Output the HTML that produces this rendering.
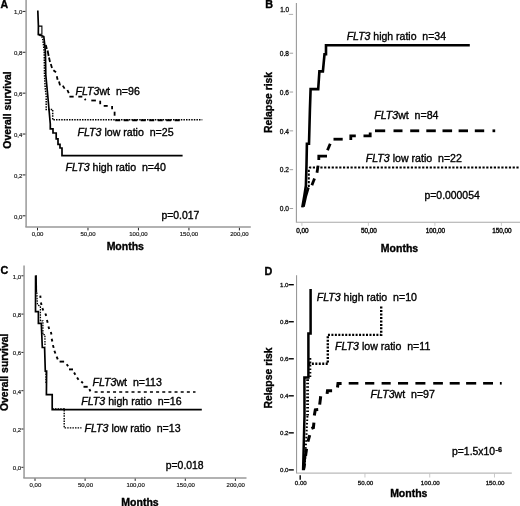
<!DOCTYPE html>
<html><head><meta charset="utf-8"><title>Figure</title>
<style>
html,body{margin:0;padding:0;background:#fff;}
body{width:520px;height:506px;overflow:hidden;font-family:"Liberation Sans", Arial, sans-serif;}
svg{display:block;font-family:"Liberation Sans", Arial, sans-serif;filter:blur(0.45px);}
</style></head><body>
<svg width="520" height="506" viewBox="0 0 520 506">
<rect width="520" height="506" fill="#fff"/>
<line x1="26.1" y1="0" x2="26.1" y2="227.1" stroke="#999" stroke-width="1.5" />
<line x1="25.35" y1="227.1" x2="250.8" y2="227.1" stroke="#999" stroke-width="1.5" />
<line x1="22.6" y1="11.400000000000006" x2="25.4" y2="11.400000000000006" stroke="#222" stroke-width="1" />
<text x="22.3" y="14.400000000000006" font-size="6" font-weight="normal" text-anchor="end" fill="#222" stroke="#222" stroke-width="0.2">1,0</text>
<line x1="22.6" y1="52.28" x2="25.4" y2="52.28" stroke="#222" stroke-width="1" />
<text x="22.3" y="55.28" font-size="6" font-weight="normal" text-anchor="end" fill="#222" stroke="#222" stroke-width="0.2">0,8</text>
<line x1="22.6" y1="93.16000000000001" x2="25.4" y2="93.16000000000001" stroke="#222" stroke-width="1" />
<text x="22.3" y="96.16000000000001" font-size="6" font-weight="normal" text-anchor="end" fill="#222" stroke="#222" stroke-width="0.2">0,6</text>
<line x1="22.6" y1="134.04000000000002" x2="25.4" y2="134.04000000000002" stroke="#222" stroke-width="1" />
<text x="22.3" y="137.04000000000002" font-size="6" font-weight="normal" text-anchor="end" fill="#222" stroke="#222" stroke-width="0.2">0,4</text>
<line x1="22.6" y1="174.92000000000002" x2="25.4" y2="174.92000000000002" stroke="#222" stroke-width="1" />
<text x="22.3" y="177.92000000000002" font-size="6" font-weight="normal" text-anchor="end" fill="#222" stroke="#222" stroke-width="0.2">0,2</text>
<line x1="22.6" y1="215.8" x2="25.4" y2="215.8" stroke="#222" stroke-width="1" />
<text x="22.3" y="218.8" font-size="6" font-weight="normal" text-anchor="end" fill="#222" stroke="#222" stroke-width="0.2">0,0</text>
<line x1="37.5" y1="227.8" x2="37.5" y2="230.4" stroke="#222" stroke-width="1" />
<text x="37.5" y="236.4" font-size="6" font-weight="normal" text-anchor="middle" fill="#222" stroke="#222" stroke-width="0.2">0,00</text>
<line x1="87.975" y1="227.8" x2="87.975" y2="230.4" stroke="#222" stroke-width="1" />
<text x="87.975" y="236.4" font-size="6" font-weight="normal" text-anchor="middle" fill="#222" stroke="#222" stroke-width="0.2">50,00</text>
<line x1="138.45" y1="227.8" x2="138.45" y2="230.4" stroke="#222" stroke-width="1" />
<text x="138.45" y="236.4" font-size="6" font-weight="normal" text-anchor="middle" fill="#222" stroke="#222" stroke-width="0.2">100,00</text>
<line x1="188.925" y1="227.8" x2="188.925" y2="230.4" stroke="#222" stroke-width="1" />
<text x="188.925" y="236.4" font-size="6" font-weight="normal" text-anchor="middle" fill="#222" stroke="#222" stroke-width="0.2">150,00</text>
<line x1="239.4" y1="227.8" x2="239.4" y2="230.4" stroke="#222" stroke-width="1" />
<text x="239.4" y="236.4" font-size="6" font-weight="normal" text-anchor="middle" fill="#222" stroke="#222" stroke-width="0.2">200,00</text>
<text x="0.6" y="8.1" font-size="10.5" font-weight="bold" text-anchor="start" fill="#000"  stroke="#000" stroke-width="0.35">A</text>
<text transform="translate(11,110) rotate(-90)" font-size="10.4" font-weight="bold" text-anchor="middle" fill="#000" stroke="#000" stroke-width="0.35">Overall survival</text>
<text x="125.3" y="249.7" font-size="10.5" font-weight="bold" text-anchor="middle" fill="#000"  stroke="#000" stroke-width="0.35">Months</text>
<text x="161.4" y="219.4" font-size="10.4" font-weight="normal" text-anchor="start" fill="#000"  stroke="#000" stroke-width="0.35">p=0.017</text>
<text x="75.5" y="94.5" font-size="10.6" fill="#000" stroke="#000" stroke-width="0.35" xml:space="preserve"><tspan font-style="italic">FLT3</tspan>wt  n=96</text>
<text x="77.5" y="136.3" font-size="10.6" fill="#000" stroke="#000" stroke-width="0.35" xml:space="preserve"><tspan font-style="italic">FLT3</tspan> low ratio  n=25</text>
<text x="65.6" y="171.2" font-size="10.6" fill="#000" stroke="#000" stroke-width="0.35" xml:space="preserve"><tspan font-style="italic">FLT3</tspan> high ratio  n=40</text>
<path d="M37.80,10.50 L38.40,26.00 L38.30,34.50 L39.60,34.80 L43.80,36.50 L44.60,43.50 L45.40,52.00 L45.80,75.00 L47.70,95.00 L50.30,124.00 L50.30,128.80 L53.00,128.80 L53.00,133.00 L56.20,133.00 L56.20,138.80 L58.00,138.80 L58.00,144.40 L60.00,144.40 L60.00,148.00 L62.00,148.00 L62.00,155.60 L182.60,155.60" fill="none" stroke="#000" stroke-width="1.7" stroke-linejoin="miter" />
<path d="M38.60,26.10 L41.90,26.10 L41.90,34.30 L38.30,34.30" fill="none" stroke="#000" stroke-width="1.1" stroke-linejoin="miter" />
<path d="M39.50,35.00 L42.50,37.50 L43.40,44.00 L44.20,52.00 L44.50,75.00 L45.20,88.00 L46.20,96.00 L46.20,109.50 L52.70,109.50 L52.70,119.80 L202.30,119.80" fill="none" stroke="#000" stroke-width="1.5" stroke-dasharray="1.5 1.1" stroke-linejoin="miter" />
<line x1="45.8" y1="45" x2="46.8" y2="49" stroke="#000" stroke-width="1.8" />
<line x1="47.6" y1="50.5" x2="48.6" y2="56" stroke="#000" stroke-width="1.8" />
<line x1="49.0" y1="57.5" x2="50.0" y2="62" stroke="#000" stroke-width="1.8" />
<line x1="50.8" y1="64" x2="52.0" y2="68" stroke="#000" stroke-width="1.8" />
<line x1="53.4" y1="70.3" x2="56.0" y2="72.3" stroke="#000" stroke-width="1.8" />
<line x1="56.8" y1="76.2" x2="57.6" y2="79.8" stroke="#000" stroke-width="1.8" />
<line x1="59.0" y1="81.5" x2="60.0" y2="85.4" stroke="#000" stroke-width="1.8" />
<line x1="62.8" y1="85.6" x2="64.6" y2="88.6" stroke="#000" stroke-width="1.8" />
<line x1="67.4" y1="90" x2="68.8" y2="93.2" stroke="#000" stroke-width="1.8" />
<line x1="69.4" y1="96.65" x2="73.65" y2="96.65" stroke="#000" stroke-width="1.8" />
<line x1="78.3" y1="96.65" x2="82.3" y2="96.65" stroke="#000" stroke-width="1.8" />
<line x1="84.6" y1="99.0" x2="85.8" y2="100.0" stroke="#000" stroke-width="1.8" />
<line x1="91.3" y1="100.5" x2="95.9" y2="100.5" stroke="#000" stroke-width="1.8" />
<line x1="100.2" y1="100.7" x2="100.2" y2="104.2" stroke="#000" stroke-width="1.8" />
<line x1="103.7" y1="105.9" x2="107.7" y2="105.9" stroke="#000" stroke-width="1.8" />
<line x1="112.1" y1="105.9" x2="112.1" y2="109.3" stroke="#000" stroke-width="1.8" />
<line x1="114.6" y1="111.7" x2="114.6" y2="115.7" stroke="#000" stroke-width="1.8" />
<path d="M115.20,120.20 L180.30,120.20" fill="none" stroke="#000" stroke-width="2.0" stroke-dasharray="5 3.5" stroke-linejoin="miter" />
<line x1="296.4" y1="3" x2="296.4" y2="222.3" stroke="#999" stroke-width="1.1" />
<line x1="295.9" y1="222.3" x2="520" y2="222.3" stroke="#a8a8a8" stroke-width="1.1" />
<line x1="288.8" y1="14.400000000000006" x2="293.1" y2="14.400000000000006" stroke="#999" stroke-width="0.8" />
<text x="289.1" y="12.3" font-size="6.4" font-weight="normal" text-anchor="end" fill="#111" stroke="#111" stroke-width="0.3">1.0</text>
<line x1="289.6" y1="53.22" x2="293.1" y2="53.22" stroke="#888" stroke-width="0.8" />
<text x="288.9" y="56.019999999999996" font-size="6.6" font-weight="normal" text-anchor="end" fill="#111" stroke="#111" stroke-width="0.3">0.8</text>
<line x1="289.6" y1="92.04" x2="293.1" y2="92.04" stroke="#888" stroke-width="0.8" />
<text x="288.9" y="94.84" font-size="6.6" font-weight="normal" text-anchor="end" fill="#111" stroke="#111" stroke-width="0.3">0.6</text>
<line x1="289.6" y1="130.86" x2="293.1" y2="130.86" stroke="#888" stroke-width="0.8" />
<text x="288.9" y="133.66000000000003" font-size="6.6" font-weight="normal" text-anchor="end" fill="#111" stroke="#111" stroke-width="0.3">0.4</text>
<line x1="289.6" y1="169.68" x2="293.1" y2="169.68" stroke="#888" stroke-width="0.8" />
<text x="288.9" y="172.48000000000002" font-size="6.6" font-weight="normal" text-anchor="end" fill="#111" stroke="#111" stroke-width="0.3">0.2</text>
<line x1="289.6" y1="208.5" x2="293.1" y2="208.5" stroke="#888" stroke-width="0.8" />
<text x="288.9" y="211.3" font-size="6.6" font-weight="normal" text-anchor="end" fill="#111" stroke="#111" stroke-width="0.3">0.0</text>
<line x1="301.9" y1="222.8" x2="301.9" y2="225.8" stroke="#bbb" stroke-width="0.8" />
<text x="302.4" y="232.8" font-size="6.4" font-weight="normal" text-anchor="middle" fill="#111" stroke="#111" stroke-width="0.4">0,00</text>
<line x1="368.4" y1="222.8" x2="368.4" y2="225.8" stroke="#bbb" stroke-width="0.8" />
<text x="368.9" y="232.8" font-size="6.4" font-weight="normal" text-anchor="middle" fill="#111" stroke="#111" stroke-width="0.4">50,00</text>
<line x1="434.9" y1="222.8" x2="434.9" y2="225.8" stroke="#bbb" stroke-width="0.8" />
<text x="435.4" y="232.8" font-size="6.4" font-weight="normal" text-anchor="middle" fill="#111" stroke="#111" stroke-width="0.4">100,00</text>
<line x1="501.4" y1="222.8" x2="501.4" y2="225.8" stroke="#bbb" stroke-width="0.8" />
<text x="501.9" y="232.8" font-size="6.4" font-weight="normal" text-anchor="middle" fill="#111" stroke="#111" stroke-width="0.4">150,00</text>
<text x="265.2" y="8.1" font-size="10.8" font-weight="bold" text-anchor="start" fill="#000"  stroke="#000" stroke-width="0.35">B</text>
<text transform="translate(272.1,102.5) rotate(-90)" font-size="10.4" font-weight="bold" text-anchor="middle" fill="#000" stroke="#000" stroke-width="0.35">Relapse risk</text>
<text x="399.5" y="251.9" font-size="10.5" font-weight="bold" text-anchor="middle" fill="#000"  stroke="#000" stroke-width="0.35">Months</text>
<text x="424.5" y="199" font-size="10.4" font-weight="normal" text-anchor="start" fill="#000"  stroke="#000" stroke-width="0.35">p=0.000054</text>
<text x="346.7" y="40.2" font-size="10.5" fill="#000" stroke="#000" stroke-width="0.35" xml:space="preserve"><tspan font-style="italic">FLT3</tspan> high ratio  n=34</text>
<text x="374.2" y="119.3" font-size="10.6" fill="#000" stroke="#000" stroke-width="0.35" xml:space="preserve"><tspan font-style="italic">FLT3</tspan>wt  n=84</text>
<text x="365.8" y="161.6" font-size="10.6" fill="#000" stroke="#000" stroke-width="0.35" xml:space="preserve"><tspan font-style="italic">FLT3</tspan> low ratio  n=22</text>
<path d="M302.30,207.40 L304.30,196.00 L305.90,185.70 L306.50,165.00 L306.90,143.70 L309.00,143.70 L309.90,110.00 L310.60,89.10 L318.20,89.10 L319.40,71.40 L322.90,71.40 L324.50,54.30 L326.00,54.30 L326.00,45.30 L469.80,45.30" fill="none" stroke="#000" stroke-width="2.6" stroke-linejoin="miter" />
<path d="M303.40,206.60 L305.80,196.00 L308.30,187.50" fill="none" stroke="#000" stroke-width="2.8" stroke-linejoin="miter" />
<path d="M308.80,187.00 L308.80,169.50 L309.90,167.60 L520.00,167.60" fill="none" stroke="#000" stroke-width="2" stroke-dasharray="2.2 1.57" stroke-linejoin="miter" />
<path d="M311.90,185.20 L314.50,178.50" fill="none" stroke="#000" stroke-width="2.8" stroke-linejoin="miter" />
<path d="M317.00,172.80 L318.10,165.60" fill="none" stroke="#000" stroke-width="2.8" stroke-linejoin="miter" />
<path d="M318.80,160.00 L318.80,156.20 L327.00,156.20" fill="none" stroke="#000" stroke-width="2.8" stroke-linejoin="miter" />
<path d="M327.50,150.20 L330.20,143.70" fill="none" stroke="#000" stroke-width="2.8" stroke-linejoin="miter" />
<path d="M333.50,139.20 L342.70,139.20" fill="none" stroke="#000" stroke-width="2.8" stroke-linejoin="miter" />
<path d="M350.80,140.00 L350.80,135.80 L355.80,135.80" fill="none" stroke="#000" stroke-width="2.8" stroke-linejoin="miter" />
<path d="M363.50,135.80 L370.20,135.80 L370.20,132.50" fill="none" stroke="#000" stroke-width="2.8" stroke-linejoin="miter" />
<path d="M375.00,130.80 L385.20,130.80" fill="none" stroke="#000" stroke-width="2.8" stroke-linejoin="miter" />
<path d="M393.50,130.80 L402.50,130.80" fill="none" stroke="#000" stroke-width="2.8" stroke-linejoin="miter" />
<path d="M410.20,130.80 L419.20,130.80" fill="none" stroke="#000" stroke-width="2.8" stroke-linejoin="miter" />
<path d="M426.30,130.80 L435.80,130.80" fill="none" stroke="#000" stroke-width="2.8" stroke-linejoin="miter" />
<path d="M442.50,130.80 L452.10,130.80" fill="none" stroke="#000" stroke-width="2.8" stroke-linejoin="miter" />
<path d="M458.60,130.80 L468.00,130.80" fill="none" stroke="#000" stroke-width="2.8" stroke-linejoin="miter" />
<path d="M474.80,130.80 L484.20,130.80" fill="none" stroke="#000" stroke-width="2.8" stroke-linejoin="miter" />
<path d="M492.50,130.80 L495.20,130.80" fill="none" stroke="#000" stroke-width="2.8" stroke-linejoin="miter" />
<line x1="24.05" y1="265.4" x2="24.05" y2="477.9" stroke="#999" stroke-width="1.5" />
<line x1="23.3" y1="477.9" x2="246.5" y2="477.9" stroke="#999" stroke-width="1.5" />
<line x1="21.4" y1="275.8" x2="23.4" y2="275.8" stroke="#222" stroke-width="1" />
<text x="21.2" y="278.6" font-size="6" font-weight="normal" text-anchor="end" fill="#222" stroke="#222" stroke-width="0.2">1,0</text>
<line x1="21.4" y1="314.1" x2="23.4" y2="314.1" stroke="#222" stroke-width="1" />
<text x="21.2" y="316.90000000000003" font-size="6" font-weight="normal" text-anchor="end" fill="#222" stroke="#222" stroke-width="0.2">0,8</text>
<line x1="21.4" y1="352.40000000000003" x2="23.4" y2="352.40000000000003" stroke="#222" stroke-width="1" />
<text x="21.2" y="355.20000000000005" font-size="6" font-weight="normal" text-anchor="end" fill="#222" stroke="#222" stroke-width="0.2">0,6</text>
<line x1="21.4" y1="390.7" x2="23.4" y2="390.7" stroke="#222" stroke-width="1" />
<text x="21.2" y="393.5" font-size="6" font-weight="normal" text-anchor="end" fill="#222" stroke="#222" stroke-width="0.2">0,4</text>
<line x1="21.4" y1="429.0" x2="23.4" y2="429.0" stroke="#222" stroke-width="1" />
<text x="21.2" y="431.8" font-size="6" font-weight="normal" text-anchor="end" fill="#222" stroke="#222" stroke-width="0.2">0,2</text>
<line x1="21.4" y1="467.3" x2="23.4" y2="467.3" stroke="#222" stroke-width="1" />
<text x="21.2" y="470.1" font-size="6" font-weight="normal" text-anchor="end" fill="#222" stroke="#222" stroke-width="0.2">0,0</text>
<line x1="35.0" y1="478.6" x2="35.0" y2="480.9" stroke="#222" stroke-width="1" />
<text x="35.4" y="486.6" font-size="6" font-weight="normal" text-anchor="middle" fill="#222" stroke="#222" stroke-width="0.2">0,00</text>
<line x1="85.1" y1="478.6" x2="85.1" y2="480.9" stroke="#222" stroke-width="1" />
<text x="85.5" y="486.6" font-size="6" font-weight="normal" text-anchor="middle" fill="#222" stroke="#222" stroke-width="0.2">50,00</text>
<line x1="135.2" y1="478.6" x2="135.2" y2="480.9" stroke="#222" stroke-width="1" />
<text x="135.6" y="486.6" font-size="6" font-weight="normal" text-anchor="middle" fill="#222" stroke="#222" stroke-width="0.2">100,00</text>
<line x1="185.3" y1="478.6" x2="185.3" y2="480.9" stroke="#222" stroke-width="1" />
<text x="185.70000000000002" y="486.6" font-size="6" font-weight="normal" text-anchor="middle" fill="#222" stroke="#222" stroke-width="0.2">150,00</text>
<line x1="235.4" y1="478.6" x2="235.4" y2="480.9" stroke="#222" stroke-width="1" />
<text x="235.8" y="486.6" font-size="6" font-weight="normal" text-anchor="middle" fill="#222" stroke="#222" stroke-width="0.2">200,00</text>
<text x="0.5" y="274.1" font-size="10.8" font-weight="bold" text-anchor="start" fill="#000"  stroke="#000" stroke-width="0.35">C</text>
<text transform="translate(7.6,372.3) rotate(-90)" font-size="10.4" font-weight="bold" text-anchor="middle" fill="#000" stroke="#000" stroke-width="0.35">Overall survival</text>
<text x="140" y="505.6" font-size="10.5" font-weight="bold" text-anchor="middle" fill="#000"  stroke="#000" stroke-width="0.35">Months</text>
<text x="184.7" y="469.4" font-size="10.4" font-weight="normal" text-anchor="middle" fill="#000"  stroke="#000" stroke-width="0.35">p=0.018</text>
<text x="92.5" y="385.5" font-size="10.6" fill="#000" stroke="#000" stroke-width="0.35" xml:space="preserve"><tspan font-style="italic">FLT3</tspan>wt  n=113</text>
<text x="81.3" y="405.1" font-size="10.6" fill="#000" stroke="#000" stroke-width="0.35" xml:space="preserve"><tspan font-style="italic">FLT3</tspan> high ratio  n=16</text>
<text x="84.5" y="432.3" font-size="10.6" fill="#000" stroke="#000" stroke-width="0.35" xml:space="preserve"><tspan font-style="italic">FLT3</tspan> low ratio  n=13</text>
<path d="M36.20,275.30 L36.50,292.50" fill="none" stroke="#000" stroke-width="1.3" stroke-linejoin="miter" />
<path d="M35.60,275.40 L35.50,311.70 L38.40,311.70 L38.40,323.30 L41.30,323.30 L42.30,347.50 L44.60,347.50 L45.30,371.20 L46.60,371.20 L46.40,394.60 L52.20,394.60 L52.20,409.70 L201.80,409.70" fill="none" stroke="#000" stroke-width="1.7" stroke-linejoin="miter" />
<path d="M36.80,292.50 L37.40,304.60 L40.40,306.50 L40.40,320.90 L42.90,320.90 L42.90,334.70 L44.90,334.70 L45.00,346.50" fill="none" stroke="#000" stroke-width="1.3" stroke-dasharray="1.5 1.1" stroke-linejoin="miter" />
<path d="M45.90,371.00 L46.00,383.00" fill="none" stroke="#000" stroke-width="1.3" stroke-dasharray="1.5 1.1" stroke-linejoin="miter" />
<path d="M52.40,408.90 L64.20,408.90 L64.20,427.90 L81.50,427.90" fill="none" stroke="#000" stroke-width="1.4" stroke-dasharray="1.5 1.1" stroke-linejoin="miter" />
<line x1="40.26" y1="295.65" x2="40.54" y2="297.95" stroke="#000" stroke-width="1.9" />
<line x1="40.91" y1="302.48" x2="41.49" y2="304.92" stroke="#000" stroke-width="1.9" />
<line x1="42.37" y1="308.08" x2="43.23" y2="310.52" stroke="#000" stroke-width="1.9" />
<line x1="45.37" y1="313.48" x2="46.23" y2="315.92" stroke="#000" stroke-width="1.9" />
<line x1="46.94" y1="320.1" x2="47.66" y2="322.7" stroke="#000" stroke-width="1.9" />
<line x1="48.44" y1="326.5" x2="49.16" y2="329.1" stroke="#000" stroke-width="1.9" />
<line x1="50.83" y1="331.9" x2="51.47" y2="334.5" stroke="#000" stroke-width="1.9" />
<line x1="51.71" y1="338.73" x2="52.29" y2="341.47" stroke="#000" stroke-width="1.9" />
<line x1="52.94" y1="345.13" x2="53.66" y2="347.87" stroke="#000" stroke-width="1.9" />
<line x1="54.4" y1="350.73" x2="55.4" y2="353.47" stroke="#000" stroke-width="1.9" />
<line x1="56.62" y1="356.53" x2="57.78" y2="359.27" stroke="#000" stroke-width="1.9" />
<line x1="59.6" y1="361.6" x2="64.1" y2="361.6" stroke="#000" stroke-width="1.9" />
<line x1="66.68" y1="364.19" x2="68.12" y2="366.21" stroke="#000" stroke-width="1.9" />
<line x1="69" y1="369.4" x2="73" y2="369.4" stroke="#000" stroke-width="1.9" />
<line x1="74.05" y1="372.45" x2="75.35" y2="374.75" stroke="#000" stroke-width="1.9" />
<line x1="77.08" y1="377.45" x2="78.52" y2="379.75" stroke="#000" stroke-width="1.9" />
<line x1="81.31" y1="381.51" x2="82.89" y2="383.09" stroke="#000" stroke-width="1.9" />
<line x1="83.5" y1="386.8" x2="87.7" y2="386.8" stroke="#000" stroke-width="1.9" />
<line x1="89.4" y1="389.22" x2="90.4" y2="391.38" stroke="#000" stroke-width="1.9" />
<path d="M94.60,392.00 L195.50,392.00" fill="none" stroke="#000" stroke-width="1.5" stroke-dasharray="3 3.15" stroke-linejoin="miter" />
<line x1="296.55" y1="275.3" x2="296.55" y2="473.1" stroke="#999" stroke-width="1.1" />
<line x1="296" y1="473.1" x2="511.8" y2="473.1" stroke="#a8a8a8" stroke-width="1.0" />
<line x1="288.6" y1="284.7" x2="293.8" y2="284.7" stroke="#000" stroke-width="1.4" />
<text x="288.5" y="287.0" font-size="6.1" font-weight="normal" text-anchor="end" fill="#111" stroke="#111" stroke-width="0.3">1.0</text>
<line x1="288.6" y1="321.74" x2="293.8" y2="321.74" stroke="#000" stroke-width="1.4" />
<text x="288.5" y="324.04" font-size="6.1" font-weight="normal" text-anchor="end" fill="#111" stroke="#111" stroke-width="0.3">0.8</text>
<line x1="288.6" y1="358.78" x2="293.8" y2="358.78" stroke="#000" stroke-width="1.4" />
<text x="288.5" y="361.08" font-size="6.1" font-weight="normal" text-anchor="end" fill="#111" stroke="#111" stroke-width="0.3">0.6</text>
<line x1="288.6" y1="395.82" x2="293.8" y2="395.82" stroke="#000" stroke-width="1.4" />
<text x="288.5" y="398.12" font-size="6.1" font-weight="normal" text-anchor="end" fill="#111" stroke="#111" stroke-width="0.3">0.4</text>
<line x1="288.6" y1="432.85999999999996" x2="293.8" y2="432.85999999999996" stroke="#000" stroke-width="1.4" />
<text x="288.5" y="435.15999999999997" font-size="6.1" font-weight="normal" text-anchor="end" fill="#111" stroke="#111" stroke-width="0.3">0.2</text>
<line x1="288.6" y1="469.9" x2="293.8" y2="469.9" stroke="#000" stroke-width="1.4" />
<text x="288.5" y="472.2" font-size="6.1" font-weight="normal" text-anchor="end" fill="#111" stroke="#111" stroke-width="0.3">0.0</text>
<line x1="300.2" y1="475.2" x2="300.2" y2="479.8" stroke="#000" stroke-width="1.4" />
<text x="300.8" y="485.2" font-size="6.2" font-weight="normal" text-anchor="middle" fill="#111" stroke="#111" stroke-width="0.3">0.00</text>
<line x1="364.965" y1="473.6" x2="364.965" y2="477.5" stroke="#bbb" stroke-width="0.8" />
<text x="365.565" y="485.2" font-size="6.2" font-weight="normal" text-anchor="middle" fill="#111" stroke="#111" stroke-width="0.3">50.00</text>
<line x1="429.73" y1="473.6" x2="429.73" y2="477.5" stroke="#bbb" stroke-width="0.8" />
<text x="430.33000000000004" y="485.2" font-size="6.2" font-weight="normal" text-anchor="middle" fill="#111" stroke="#111" stroke-width="0.3">100.00</text>
<line x1="494.495" y1="473.6" x2="494.495" y2="477.5" stroke="#bbb" stroke-width="0.8" />
<text x="495.095" y="485.2" font-size="6.2" font-weight="normal" text-anchor="middle" fill="#111" stroke="#111" stroke-width="0.3">150.00</text>
<text x="264.5" y="274.8" font-size="10.8" font-weight="bold" text-anchor="start" fill="#000"  stroke="#000" stroke-width="0.35">D</text>
<text transform="translate(272.1,378) rotate(-90)" font-size="10.4" font-weight="bold" text-anchor="middle" fill="#000" stroke="#000" stroke-width="0.35">Relapse risk</text>
<text x="408.8" y="497.2" font-size="10.5" font-weight="bold" text-anchor="middle" fill="#000"  stroke="#000" stroke-width="0.35">Months</text>
<text x="452" y="455" font-size="10.4" fill="#000" stroke="#000" stroke-width="0.35">p=1.5x10<tspan font-size="7.2" dy="-3.5" dx="0.5" font-weight="bold">-6</tspan></text>
<text x="316.7" y="301.2" font-size="10.6" fill="#000" stroke="#000" stroke-width="0.35" xml:space="preserve"><tspan font-style="italic">FLT3</tspan> high ratio  n=10</text>
<text x="335" y="349.7" font-size="10.6" fill="#000" stroke="#000" stroke-width="0.35" xml:space="preserve"><tspan font-style="italic">FLT3</tspan> low ratio  n=11</text>
<text x="370.6" y="397.7" font-size="10.6" fill="#000" stroke="#000" stroke-width="0.35" xml:space="preserve"><tspan font-style="italic">FLT3</tspan>wt  n=97</text>
<path d="M303.10,470.30 L304.50,415.00 L304.40,377.40 L308.40,377.40 L308.40,333.40 L310.60,333.40 L310.60,288.90" fill="none" stroke="#000" stroke-width="2.5" stroke-linejoin="miter" />
<path d="M303.60,470.00 L305.20,455.00" fill="none" stroke="#000" stroke-width="2.6" stroke-linejoin="miter" />
<path d="M307.60,415.50 L307.60,378.00" fill="none" stroke="#000" stroke-width="2.8" stroke-dasharray="1.6 1.86" stroke-linejoin="miter" />
<path d="M310.20,377.00 L310.20,358.00" fill="none" stroke="#000" stroke-width="2.2" stroke-dasharray="1.6 1.86" stroke-linejoin="miter" />
<path d="M308.40,363.80 L327.80,363.80 L327.80,334.90 L381.20,334.90 L381.20,306.40" fill="none" stroke="#000" stroke-width="2.4" stroke-dasharray="2 1.46" stroke-linejoin="miter" />
<path d="M307.40,416.00 L306.20,440.00 L305.00,462.00" fill="none" stroke="#000" stroke-width="2.0" stroke-dasharray="1.6 1.86" stroke-linejoin="miter" />
<path d="M303.60,469.50 L304.60,463.60" fill="none" stroke="#000" stroke-width="3.0" stroke-linejoin="miter" />
<path d="M305.60,455.90 L306.50,448.80" fill="none" stroke="#000" stroke-width="3.0" stroke-linejoin="miter" />
<path d="M307.90,441.70 L309.70,435.10" fill="none" stroke="#000" stroke-width="3.0" stroke-linejoin="miter" />
<path d="M311.40,428.40 L313.40,427.60 L313.90,422.70" fill="none" stroke="#000" stroke-width="3.0" stroke-linejoin="miter" />
<path d="M314.30,415.50 L315.30,409.80 L318.20,409.60" fill="none" stroke="#000" stroke-width="3.0" stroke-linejoin="miter" />
<path d="M319.70,404.60 L320.70,396.20" fill="none" stroke="#000" stroke-width="3.0" stroke-linejoin="miter" />
<path d="M327.10,393.90 L327.50,390.80 L332.10,390.80" fill="none" stroke="#000" stroke-width="3.0" stroke-linejoin="miter" />
<path d="M337.50,387.50 L338.00,383.40 L341.60,383.40" fill="none" stroke="#000" stroke-width="3.0" stroke-linejoin="miter" />
<path d="M348.70,383.30 L358.40,383.30" fill="none" stroke="#000" stroke-width="2.6" stroke-linejoin="miter" />
<path d="M365.10,383.30 L374.30,383.30" fill="none" stroke="#000" stroke-width="2.6" stroke-linejoin="miter" />
<path d="M381.60,383.30 L390.70,383.30" fill="none" stroke="#000" stroke-width="2.6" stroke-linejoin="miter" />
<path d="M398.00,383.30 L408.10,383.30" fill="none" stroke="#000" stroke-width="2.6" stroke-linejoin="miter" />
<path d="M415.40,383.30 L425.40,383.30" fill="none" stroke="#000" stroke-width="2.6" stroke-linejoin="miter" />
<path d="M433.20,383.30 L442.90,383.30" fill="none" stroke="#000" stroke-width="2.6" stroke-linejoin="miter" />
<path d="M449.70,383.30 L459.70,383.30" fill="none" stroke="#000" stroke-width="2.6" stroke-linejoin="miter" />
<path d="M466.10,383.30 L476.20,383.30" fill="none" stroke="#000" stroke-width="2.6" stroke-linejoin="miter" />
<path d="M483.10,383.30 L493.00,383.30" fill="none" stroke="#000" stroke-width="2.6" stroke-linejoin="miter" />
<path d="M499.90,383.30 L501.70,383.30" fill="none" stroke="#000" stroke-width="2.6" stroke-linejoin="miter" />
</svg>
</body></html>
